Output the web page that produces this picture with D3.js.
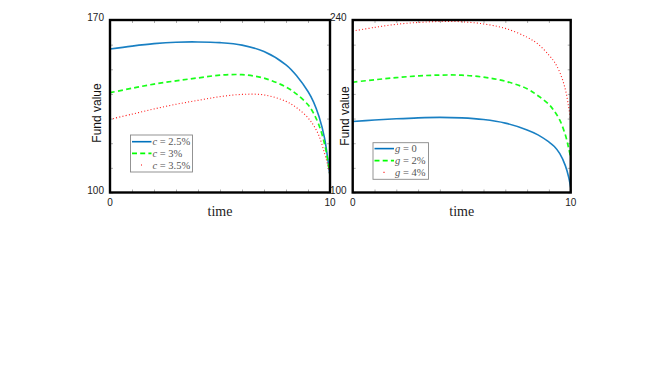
<!DOCTYPE html>
<html><head><meta charset="utf-8">
<script src="https://cdn.jsdelivr.net/npm/d3@7"></script>
<style>body{margin:0;background:#fff}svg{display:block}</style>
</head><body><svg id="c" width="667" height="375"></svg>
<script>
// ---- data ----
const timeGrid = [0,1,2,3,4,5,6,7,8,8.5,9,9.25,9.5,9.75,9.9,10];
// left panel: varying c
const leftLabels = ["2.5%","3%","3.5%"];
const leftC25 = [158.2,159.4,160.4,161.0,161.1,160.8,159.8,157.2,151.8,147.2,141.0,136.8,130.8,122.2,113.5,106.5];
const leftC3  = [140.5,142.3,144.0,145.3,146.5,147.6,147.8,146.4,142.8,139.8,135.6,132.2,127.3,119.8,113.0,107.2];
const leftC35 = [129.7,131.8,133.9,135.8,137.4,138.9,139.8,139.6,137.0,134.3,130.3,127.3,123.0,116.0,111.0,107.0];
// right panel: varying g
const rightLabels = ["0","2%","4%"];
const rightG0 = [157.6,158.8,159.8,160.6,161.0,160.6,159.2,156.3,150.8,146.8,141.0,137.3,131.5,122.0,113.0,104.0];
const rightG2 = [189.5,191.5,193.2,194.6,195.3,195.2,193.6,190.3,184.2,178.5,171.5,166.0,158.7,147.0,136.5,128.5];
const rightG4 = [231.0,234.0,236.5,238.0,238.8,238.6,236.8,233.2,226.0,220.5,211.5,206.0,197.5,184.0,170.0,159.0];
const xDomain = [0,10];
const xTickLabels = ["0","10"];
const leftYDomain = [100,170];
const rightYDomain = [100,240];
const leftYTickLabels = ["100","170"];
const rightYTickLabels = ["100","240"];

// ---- drawing ----
const svg = d3.select("#c");
const styles = [
  {color:"#0072BD", width:1.6, dash:null},
  {color:"#00FF00", width:1.7, dash:"5,3.2"},
  {color:"#FF0000", width:1.1, dash:"1,2.2"}
];
const panels = [
  {x0:110, x1:330, y0:20, y1:192.5, ydom:leftYDomain, ystep:10, yl:leftYTickLabels,
   series:[leftC25,leftC3,leftC35], sym:"c", labels:leftLabels,
   legend:{x:130.5, y:135, w:62, h:37, rows:[141.7,153.3,165]}, ylabX:97, ylabY:113},
  {x0:352.7, x1:570.7, y0:20, y1:192.5, ydom:rightYDomain, ystep:20, yl:rightYTickLabels,
   series:[rightG0,rightG2,rightG4], sym:"g", labels:rightLabels,
   legend:{x:373, y:142.7, w:55.5, h:36.6, rows:[148.6,160.6,172.4]}, ylabX:345, ylabY:116}
];

panels.forEach((p,pi)=>{
  const x = d3.scaleLinear().domain(xDomain).range([p.x0,p.x1]);
  const y = d3.scaleLinear().domain(p.ydom).range([p.y1,p.y0]);
  const g = svg.append("g");
  const cid = "clip"+pi;
  svg.append("defs").append("clipPath").attr("id",cid)
    .append("rect").attr("x",p.x0).attr("y",p.y0).attr("width",p.x1-p.x0).attr("height",p.y1-p.y0);

  // inward ticks on four sides
  const tl = 3;
  const xt = d3.range(xDomain[0], xDomain[1]+0.001, 1);
  const yt = d3.range(p.ydom[0], p.ydom[1]+0.001, p.ystep);
  g.append("g").call(d3.axisBottom(x).tickValues(xt).tickSize(-tl).tickFormat(""))
    .attr("transform",`translate(0,${p.y1})`);
  g.append("g").call(d3.axisTop(x).tickValues(xt).tickSize(-tl).tickFormat(""))
    .attr("transform",`translate(0,${p.y0})`);
  g.append("g").call(d3.axisLeft(y).tickValues(yt).tickSize(-tl).tickFormat(""))
    .attr("transform",`translate(${p.x0},0)`);
  g.append("g").call(d3.axisRight(y).tickValues(yt).tickSize(-tl).tickFormat(""))
    .attr("transform",`translate(${p.x1},0)`);
  g.selectAll(".domain").remove();
  g.selectAll(".tick line").attr("stroke","#999").attr("stroke-width",0.8);

  // lines
  const line = d3.line().x((d,i)=>x(timeGrid[i])).y(d=>y(d)).curve(d3.curveCatmullRom.alpha(0.5));
  const lg = svg.append("g").attr("clip-path",`url(#${cid})`);
  p.series.forEach((s,si)=>{
    const st = styles[si];
    lg.append("path").datum(s).attr("d",line).attr("fill","none")
      .attr("stroke",st.color).attr("stroke-width",st.width)
      .attr("stroke-dasharray",st.dash).attr("stroke-opacity",0.9);
  });

  // frame
  svg.append("rect").attr("x",p.x0).attr("y",p.y0).attr("width",p.x1-p.x0).attr("height",p.y1-p.y0)
    .attr("fill","none").attr("stroke","#000").attr("stroke-width",2.4);

  // tick labels
  const tf = "Liberation Sans, Arial, sans-serif";
  p.yl.forEach((t,i)=>{
    svg.append("text").attr("x",p.x0-6).attr("y",y(+t)+1).attr("text-anchor","end")
      .attr("font-family",tf).attr("font-size",10).attr("fill","#222").text(t);
  });
  xTickLabels.forEach(t=>{
    svg.append("text").attr("x",x(+t)).attr("y",p.y1+13.5).attr("text-anchor","middle")
      .attr("font-family",tf).attr("font-size",10).attr("fill","#222").text(t);
  });
  // axis labels
  svg.append("text").attr("transform",`translate(${p.ylabX+4},${p.ylabY}) rotate(-90)`)
    .attr("text-anchor","middle").attr("font-family",tf).attr("font-size",12).attr("fill","#111")
    .text("Fund value");
  svg.append("text").attr("x",(p.x0+p.x1)/2).attr("y",p.y1+23).attr("text-anchor","middle")
    .attr("font-family","Liberation Serif, Times New Roman, serif").attr("font-size",14).attr("fill","#222")
    .text("time");

  // legend
  const L = p.legend;
  svg.append("rect").attr("x",L.x).attr("y",L.y).attr("width",L.w).attr("height",L.h)
    .attr("fill","#fff").attr("stroke","#888").attr("stroke-width",0.9);
  L.rows.forEach((ry,si)=>{
    const st = styles[si];
    svg.append("line").attr("x1",L.x+1.5).attr("x2",L.x+21).attr("y1",ry).attr("y2",ry)
      .attr("stroke",st.color).attr("stroke-width",st.width)
      .attr("stroke-dasharray", si===2 ? "1,20" : st.dash)
      .attr("stroke-dashoffset", si===2 ? -9 : 0);
    const tx = svg.append("text").attr("x",L.x+22).attr("y",ry+3.5)
      .attr("font-family","Liberation Serif, Times New Roman, serif").attr("font-size",10.5).attr("fill","#555");
    tx.append("tspan").attr("font-style","italic").text(p.sym);
    tx.append("tspan").text(" = " + p.labels[si]);
  });
});
</script></body></html>
